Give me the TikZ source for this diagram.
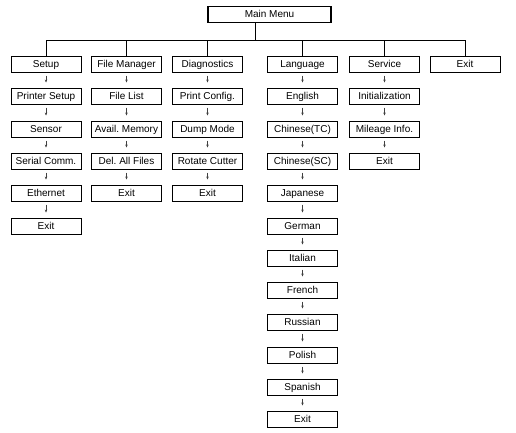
\documentclass[tikz,border=0pt]{standalone}
\usepackage{fontspec}
\setmainfont{Liberation Sans}
\usetikzlibrary{arrows.meta}
\frenchspacing
\begin{document}
\begin{tikzpicture}[x=1pt, y=-1pt,
            box/.style={draw, line width=1pt, minimum width=70pt, minimum height=16pt, inner sep=0pt, text height=7.2pt, text depth=0.5pt, font=\fontsize{10}{12}\selectfont},
            mainbox/.style={box, line width=1.5pt, minimum width=123pt},
            menuarrow/.style={draw=black!75, line width=0.4pt, shorten <=3pt, shorten >=5pt, -{Stealth[length=3pt, width=2.4pt]}},
            tree/.style={line width=1pt}
            ]
            \useasboundingbox (0,0) rectangle (516,432);
            \node[mainbox] (main) at (269.5,14.5) {Main Menu};
            \coordinate (bus) at (255,40);

            % top row
            \node[box] (setup) at (46,64) {Setup};
            \node[box] (fileman) at (126.5,64) {File Manager};
            \node[box] (diag) at (207.5,64) {Diagnostics};
            \node[box] (lang) at (302.5,64) {Language};
            \node[box] (service) at (384.5,64) {Service};
            \node[box] (exit) at (465,64) {Exit};

            % setup
            \node[box] (printer) at (46,96) {Printer Setup};
            \node[box] (sensor) at (46,129) {Sensor};
            \node[box] (serial) at (46,161) {Serial Comm.};
            \node[box] (ethernet) at (46,193) {Ethernet};
            \node[box] (setupexit) at (46,226) {Exit};

            % file manager
            \node[box] (filelist) at (126.5,96) {File List};
            \node[box] (memory) at (126.5,129) {Avail. Memory};
            \node[box] (delall) at (126.5,161) {Del. All Files};
            \node[box] (fileexit) at (126.5,193) {Exit};

            % diagnostics
            \node[box] (config) at (207.5,96) {Print Config.};
            \node[box] (dump) at (207.5,129) {Dump Mode};
            \node[box] (cutter) at (207.5,161) {Rotate Cutter};
            \node[box] (diagexit) at (207.5,193) {Exit};

            % language
            \node[box] (english) at (302.5,96) {English};
            \node[box] (tc) at (302.5,129) {Chinese(TC)};
            \node[box] (sc) at (302.5,161) {Chinese(SC)};
            \node[box] (japanese) at (302.5,193) {Japanese};
            \node[box] (german) at (302.5,226) {German};
            \node[box] (italian) at (302.5,258) {Italian};
            \node[box] (french) at (302.5,290) {French};
            \node[box] (russian) at (302.5,322) {Russian};
            \node[box] (polish) at (302.5,355) {Polish};
            \node[box] (spanish) at (302.5,387) {Spanish};
            \node[box] (langexit) at (302.5,419) {Exit};

            % service
            \node[box] (init) at (384.5,96) {Initialization};
            \node[box] (mileage) at (384.5,129) {Mileage Info.};
            \node[box] (serviceexit) at (384.5,161) {Exit};

            % tree
            \draw[tree] (main.south -| bus) -- (bus);
            \draw[tree] (bus -| setup) -- (bus -| exit);
            \draw[tree] (bus -| setup) -- (setup.north);
            \draw[tree] (bus -| fileman) -- (fileman.north);
            \draw[tree] (bus -| diag) -- (diag.north);
            \draw[tree] (bus -| lang) -- (lang.north);
            \draw[tree] (bus -| service) -- (service.north);
            \draw[tree] (bus -| exit) -- (exit.north);

            \draw[menuarrow] (setup.south) -- (printer.north);
            \draw[menuarrow] (printer.south) -- (sensor.north);
            \draw[menuarrow] (sensor.south) -- (serial.north);
            \draw[menuarrow] (serial.south) -- (ethernet.north);
            \draw[menuarrow] (ethernet.south) -- (setupexit.north);

            \draw[menuarrow] (fileman.south) -- (filelist.north);
            \draw[menuarrow] (filelist.south) -- (memory.north);
            \draw[menuarrow] (memory.south) -- (delall.north);
            \draw[menuarrow] (delall.south) -- (fileexit.north);

            \draw[menuarrow] (diag.south) -- (config.north);
            \draw[menuarrow] (config.south) -- (dump.north);
            \draw[menuarrow] (dump.south) -- (cutter.north);
            \draw[menuarrow] (cutter.south) -- (diagexit.north);

            \draw[menuarrow] (lang.south) -- (english.north);
            \draw[menuarrow] (english.south) -- (tc.north);
            \draw[menuarrow] (tc.south) -- (sc.north);
            \draw[menuarrow] (sc.south) -- (japanese.north);
            \draw[menuarrow] (japanese.south) -- (german.north);
            \draw[menuarrow] (german.south) -- (italian.north);
            \draw[menuarrow] (italian.south) -- (french.north);
            \draw[menuarrow] (french.south) -- (russian.north);
            \draw[menuarrow] (russian.south) -- (polish.north);
            \draw[menuarrow] (polish.south) -- (spanish.north);
            \draw[menuarrow] (spanish.south) -- (langexit.north);

            \draw[menuarrow] (service.south) -- (init.north);
            \draw[menuarrow] (init.south) -- (mileage.north);
            \draw[menuarrow] (mileage.south) -- (serviceexit.north);

\end{tikzpicture}
\end{document}
